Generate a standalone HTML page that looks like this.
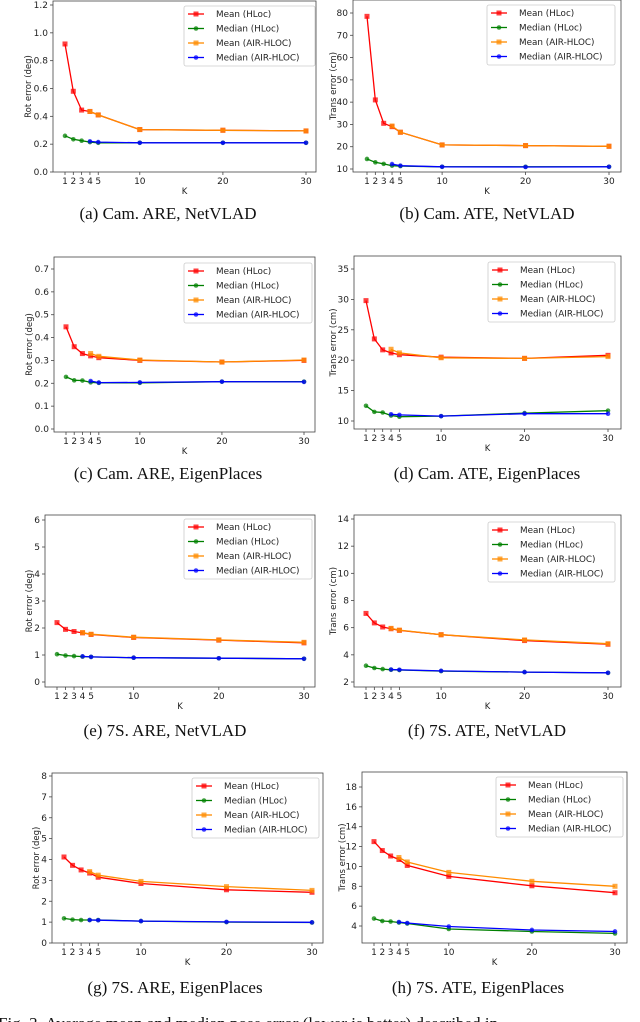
<!DOCTYPE html>
<html><head><meta charset="utf-8"><style>
html,body{margin:0;padding:0;background:#fff;width:640px;height:1022px;overflow:hidden}
svg{display:block}
</style></head><body>
<svg id="fig" width="640" height="1022" xmlns="http://www.w3.org/2000/svg"></svg>
<script>
const kValues=[1,2,3,4,5,10,20,30];
const airK=[4,5,10,20,30];
const aMeanH=[0.92,0.58,0.445,0.435,0.41,0.305,0.30,0.295];
const aMedH=[0.26,0.235,0.225,0.215,0.21,0.21,0.21,0.21];
const aMeanA=[0.435,0.41,0.305,0.30,0.295];
const aMedA=[0.22,0.215,0.21,0.21,0.21];
const bMeanH=[78.5,41,30.5,29,26.5,20.8,20.5,20.2];
const bMedH=[14.5,13,12.3,11.5,11.3,11,11,11];
const bMeanA=[29.3,26.5,20.8,20.5,20.2];
const bMedA=[12.2,11.5,11,10.9,11];
const cMeanH=[0.447,0.36,0.33,0.32,0.312,0.30,0.293,0.30];
const cMedH=[0.228,0.213,0.212,0.204,0.202,0.202,0.207,0.207];
const cMeanA=[0.33,0.318,0.302,0.293,0.302];
const cMedA=[0.21,0.203,0.204,0.207,0.206];
const dMeanH=[29.8,23.5,21.7,21.2,20.9,20.5,20.3,20.8];
const dMedH=[12.5,11.5,11.4,10.9,10.7,10.8,11.3,11.7];
const dMeanA=[21.8,21.2,20.4,20.3,20.6];
const dMedA=[11.1,11,10.8,11.2,11.2];
const eMeanH=[2.2,1.95,1.87,1.82,1.76,1.65,1.55,1.45];
const eMedH=[1.03,0.98,0.96,0.94,0.93,0.9,0.88,0.86];
const eMeanA=[1.83,1.77,1.66,1.56,1.47];
const eMedA=[0.95,0.93,0.9,0.88,0.86];
const fMeanH=[7.05,6.35,6.05,5.92,5.8,5.48,5.05,4.78];
const fMedH=[3.2,3.03,2.95,2.9,2.88,2.8,2.73,2.67];
const fMeanA=[5.95,5.82,5.48,5.1,4.82];
const fMedA=[2.92,2.9,2.82,2.73,2.68];
const gMeanH=[4.12,3.72,3.5,3.35,3.15,2.85,2.55,2.43];
const gMedH=[1.18,1.12,1.1,1.1,1.1,1.05,1.0,0.98];
const gMeanA=[3.42,3.25,2.95,2.7,2.52];
const gMedA=[1.1,1.09,1.05,1.01,0.99];
const hMeanH=[12.5,11.6,11.05,10.7,10.1,9.0,8.05,7.35];
const hMedH=[4.75,4.5,4.45,4.35,4.25,3.7,3.45,3.25];
const hMeanA=[10.9,10.45,9.4,8.5,8.0];
const hMedA=[4.4,4.3,3.95,3.6,3.45];
const aTicks=[0,0.2,0.4,0.6,0.8,1.0,1.2];
const bTicks=[10,20,30,40,50,60,70,80];
const cTicks=[0,0.1,0.2,0.3,0.4,0.5,0.6,0.7];
const dTicks=[10,15,20,25,30,35];
const eTicks=[0,1,2,3,4,5,6];
const fTicks=[2,4,6,8,10,12,14];
const gTicks=[0,1,2,3,4,5,6,7,8];
const hTicks=[4,6,8,10,12,14,16,18];
const seriesNames=["Mean (HLoc)","Median (HLoc)","Mean (AIR-HLOC)","Median (AIR-HLOC)"];
const seriesColors=["#ff0000","#008000","#ff8c00","#0000ff"];
const captions=["(a) Cam. ARE, NetVLAD","(b) Cam. ATE, NetVLAD","(c) Cam. ARE, EigenPlaces","(d) Cam. ATE, EigenPlaces","(e) 7S. ARE, NetVLAD","(f) 7S. ATE, NetVLAD","(g) 7S. ARE, EigenPlaces","(h) 7S. ATE, EigenPlaces"];

const panels=[
 {id:'a',L:53,R:316,T:1,B:172,v0:0,p0:172,v1:1.2,p1:5,kx1:65,kx30:306,lx:184,lx1:315,ly:6,cx:168,cy:219,yl:31,dec:1,ylab:'Rot error (deg)',ticks:aTicks,s:[aMeanH,aMedH,aMeanA,aMedA]},
 {id:'b',L:353,R:621,T:0,B:172,v0:10,p0:169,v1:80,p1:13,kx1:367,kx30:609,lx:487,lx1:615,ly:5,cx:487,cy:219,yl:336,dec:0,ylab:'Trans error (cm)',ticks:bTicks,s:[bMeanH,bMedH,bMeanA,bMedA]},
 {id:'c',L:54,R:315,T:257,B:432,v0:0,p0:429,v1:0.7,p1:269,kx1:66,kx30:304,lx:184,lx1:312,ly:263,cx:168,cy:479,yl:32,dec:1,ylab:'Rot error (deg)',ticks:cTicks,s:[cMeanH,cMedH,cMeanA,cMedA]},
 {id:'d',L:354,R:621,T:256,B:429,v0:10,p0:421,v1:35,p1:269,kx1:366,kx30:608,lx:488,lx1:615,ly:262,cx:487,cy:479,yl:336,dec:0,ylab:'Trans error (cm)',ticks:dTicks,s:[dMeanH,dMedH,dMeanA,dMedA]},
 {id:'e',L:45,R:315,T:515,B:687,v0:0,p0:682,v1:6,p1:520,kx1:57,kx30:304,lx:184,lx1:312,ly:519,cx:165,cy:736,yl:32,dec:0,ylab:'Rot error (deg)',ticks:eTicks,s:[eMeanH,eMedH,eMeanA,eMedA]},
 {id:'f',L:354,R:621,T:515,B:687,v0:2,p0:682,v1:14,p1:519,kx1:366,kx30:608,lx:488,lx1:615,ly:522,cx:487,cy:736,yl:336,dec:0,ylab:'Trans error (cm)',ticks:fTicks,s:[fMeanH,fMedH,fMeanA,fMedA]},
 {id:'g',L:52,R:323,T:773,B:943,v0:0,p0:943,v1:8,p1:776,kx1:64,kx30:312,lx:192,lx1:319,ly:778,cx:175,cy:993,yl:39,dec:0,ylab:'Rot error (deg)',ticks:gTicks,s:[gMeanH,gMedH,gMeanA,gMedA]},
 {id:'h',L:362,R:627,T:772,B:943,v0:4,p0:926,v1:18,p1:787,kx1:374,kx30:615,lx:496,lx1:623,ly:777,cx:478,cy:993,yl:345,dec:0,ylab:'Trans error (cm)',ticks:hTicks,s:[hMeanH,hMedH,hMeanA,hMedA]}
];
const NS='http://www.w3.org/2000/svg';
const svg=document.getElementById('fig');
function mk(tag,attrs,parent,text){const e=document.createElementNS(NS,tag);for(const k in attrs)e.setAttribute(k,attrs[k]);if(text!==undefined)e.textContent=text;(parent||svg).appendChild(e);return e;}
const SANS='"DejaVu Sans","Liberation Sans",sans-serif';
const SERIF='"Liberation Serif",serif';
function marker(g,i,x,y,c){
  let m;
  if(i%2===0){m=mk('rect',{x:x-2.5,y:y-2.5,width:5,height:5,fill:c,'fill-opacity':0.75},g);}
  else{m=mk('circle',{cx:x,cy:y,r:2.3,fill:c,'fill-opacity':0.75},g);}
  
  
}
panels.forEach((p,pi)=>{
  const g=mk('g',{});
  
  
  const yS=v=>p.p0+(v-p.v0)*(p.p1-p.p0)/(p.v1-p.v0);
  const xS=k=>p.kx1+(k-1)*(p.kx30-p.kx1)/29;
  const frame=mk('rect',{x:p.L,y:p.T,width:p.R-p.L,height:p.B-p.T,fill:'none',stroke:'#444','stroke-width':0.8},g);
  
  
  p.ticks.forEach(t=>{
    const y=yS(t);
    mk('line',{x1:p.L-3,x2:p.L,y1:y,y2:y,stroke:'#444','stroke-width':0.8},g);
    const tl=mk('text',{x:p.L-5,y:y+3,'text-anchor':'end','font-size':9,'font-family':SANS,fill:'#222'},g,t.toFixed(p.dec));
    
    
  });
  kValues.forEach(k=>{
    const x=xS(k);
    mk('line',{x1:x,x2:x,y1:p.B,y2:p.B+3,stroke:'#444','stroke-width':0.8},g);
    const tl=mk('text',{x:x,y:p.B+12,'text-anchor':'middle','font-size':9,'font-family':SANS,fill:'#222'},g,String(k));
    
    
  });
  const xl=mk('text',{x:(p.L+p.R)/2,y:p.B+22,'text-anchor':'middle','font-size':8.5,'font-family':SANS,fill:'#222'},g,'K');
  
  
  const ym=(p.T+p.B)/2;
  const yl=mk('text',{x:p.yl,y:ym,'text-anchor':'middle','font-size':8.5,'font-family':SANS,fill:'#222',transform:`rotate(-90 ${p.yl} ${ym})`},g,p.ylab);
  
  
  p.s.forEach((vals,si)=>{
    const ks=vals.length===kValues.length?kValues:airK;
    const pts=vals.map((v,j)=>xS(ks[j]).toFixed(1)+','+yS(v).toFixed(1)).join(' ');
    const pl=mk('polyline',{points:pts,fill:'none',stroke:seriesColors[si],'stroke-width':1.3},g);
    
    
    vals.forEach((v,j)=>marker(g,si,xS(ks[j]),yS(v),seriesColors[si]));
  });
  const lg=mk('g',{},g);
  
  
  mk('rect',{x:p.lx,y:p.ly,width:p.lx1-p.lx,height:60,fill:'#fff',stroke:'#ccc','stroke-width':0.8,rx:2},lg);
  seriesNames.forEach((n,si)=>{
    const y=p.ly+8+si*14.5;
    const e=mk('g',{},lg);
    
    
    mk('line',{x1:p.lx+4,x2:p.lx+20,y1:y,y2:y,stroke:seriesColors[si],'stroke-width':1.3},e);
    marker(e,si,p.lx+12,y,seriesColors[si]);
    mk('text',{x:p.lx+32,y:y+3.2,'font-size':8.8,'font-family':SANS,fill:'#222'},e,n);
  });
  const cap=mk('text',{x:p.cx,y:p.cy,'text-anchor':'middle','font-size':17,'font-family':SERIF,fill:'#111'},svg,captions[pi]);
  
  
});
const fc=mk('text',{x:-2,y:1029,'font-size':17,'font-family':SERIF,fill:'#111'},svg,'Fig. 3.   Average mean and median pose error (lower is better) described in');


</script>
</body></html>
